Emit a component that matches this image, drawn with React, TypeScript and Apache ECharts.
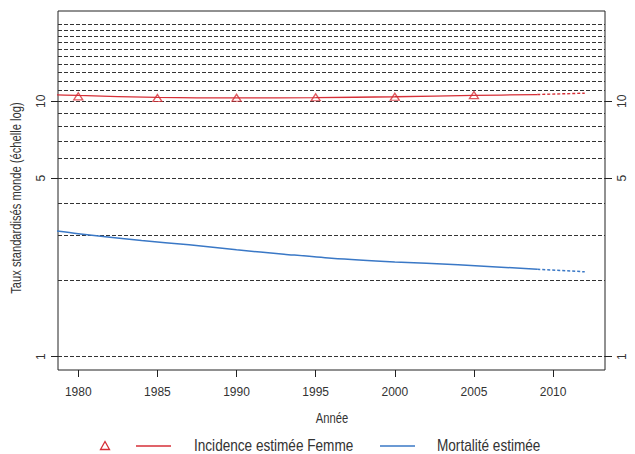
import React, { useEffect, useRef } from "react";
import * as echarts from "echarts";

const FONT = '"Liberation Sans", Arial, sans-serif';
const RED = "#d62f37";
const BLUE = "#3a78c6";
const INK = "#333333";
// condensed look for the titles and legend
const NARROW = 0.8;
const LEGEND_NARROW = 0.85;

// Years shown on the x axis
const xTickYears = [1980, 1985, 1990, 1995, 2000, 2005, 2010];
// Log-scale labels and reference lines
const yTickValues = [1, 5, 10];
const gridValues = [1, 2, 3, 4, 5, 6, 7, 8, 9, 10, 11, 12, 13, 14, 15, 16, 17, 18, 19, 20];

// Observed incidence (triangles)
const observedYears = [1980, 1985, 1990, 1995, 2000, 2005];
const observedIncidence = [10.45, 10.29, 10.32, 10.36, 10.41, 10.57];

// Estimated incidence, women (solid) and its projection (dotted)
const incidenceYears = [1978, 1980, 1985, 1990, 1995, 2000, 2005, 2009];
const incidenceFit = [10.63, 10.53, 10.35, 10.3, 10.33, 10.41, 10.53, 10.62];
const incidenceProjYears = [2009, 2012];
const incidenceProj = [10.62, 10.75];

// Estimated mortality (solid) and its projection (dotted)
const mortalityYears = [1978, 1980, 1984, 1987, 1990, 1993, 1996, 2000, 2004, 2009];
const mortalityFit = [3.14, 3.03, 2.85, 2.74, 2.62, 2.52, 2.43, 2.35, 2.29, 2.2];
const mortalityProjYears = [2009, 2012];
const mortalityProj = [2.2, 2.15];

const pairs = (xs: number[], ys: number[]) => xs.map((x, i) => [x, ys[i]]);

const Y_MIN = 0.8871;
const Y_MAX = 22.545;

const yAxisBase = (position: "left" | "right") => ({
  type: "log",
  position,
  min: Y_MIN,
  max: Y_MAX,
  axisLine: { show: false },
  axisTick: {
    show: true,
    length: 7,
    customValues: yTickValues,
    lineStyle: { color: "#222", width: 1 },
  },
  axisLabel: {
    customValues: yTickValues,
    rotate: 90,
    margin: 11,
    fontSize: 12,
    color: INK,
    fontFamily: FONT,
    formatter: (v: number) => String(Math.round(v)),
  },
  splitLine: { show: false },
  minorTick: { show: false },
});

const narrowText = (
  text: string,
  x: number,
  y: number,
  size: number,
  align: string,
  scaleX: number,
  rotation = 0
) => ({
  type: "text",
  x,
  y,
  rotation,
  scaleX,
  style: {
    text,
    fontSize: size,
    fontFamily: FONT,
    fill: INK,
    align,
    verticalAlign: "middle",
  },
});

export default function App() {
  const ref = useRef<HTMLDivElement>(null);

  useEffect(() => {
    if (!ref.current) return;
    const chart = echarts.init(ref.current, undefined, { renderer: "svg" });

    const option = {
      animation: false,
      backgroundColor: "#ffffff",
      textStyle: { fontFamily: FONT },
      grid: {
        left: 58,
        right: 30,
        top: 11,
        bottom: 84,
        show: true,
        borderColor: "#222",
        borderWidth: 1,
        backgroundColor: "transparent",
      },
      xAxis: {
        type: "value",
        min: 1978.72,
        max: 2013.28,
        axisLine: { show: false },
        axisTick: {
          show: true,
          length: 7,
          customValues: xTickYears,
          lineStyle: { color: "#222", width: 1 },
        },
        axisLabel: {
          customValues: xTickYears,
          margin: 16,
          fontSize: 12,
          color: INK,
          fontFamily: FONT,
          formatter: (v: number) => String(v),
        },
        splitLine: { show: false },
      },
      yAxis: [yAxisBase("left"), yAxisBase("right")],
      series: [
        {
          name: "Mortalité estimée",
          type: "line",
          yAxisIndex: 0,
          data: pairs(mortalityYears, mortalityFit),
          showSymbol: false,
          smooth: 0.3,
          lineStyle: { color: BLUE, width: 1.5 },
          z: 3,
          markLine: {
            silent: true,
            symbol: ["none", "none"],
            label: { show: false },
            lineStyle: { color: "#333", width: 1, type: [4, 2] },
            data: gridValues.map((v) => ({ yAxis: v })),
            z: 1,
          },
        },
        {
          name: "Mortalité projetée",
          type: "line",
          yAxisIndex: 0,
          data: pairs(mortalityProjYears, mortalityProj),
          showSymbol: false,
          lineStyle: { color: BLUE, width: 1.5, type: [3, 2] },
          z: 3,
        },
        {
          name: "Incidence estimée Femme",
          type: "line",
          yAxisIndex: 0,
          data: pairs(incidenceYears, incidenceFit),
          showSymbol: false,
          smooth: 0.3,
          lineStyle: { color: RED, width: 1.3 },
          z: 3,
        },
        {
          name: "Incidence projetée",
          type: "line",
          yAxisIndex: 0,
          data: pairs(incidenceProjYears, incidenceProj),
          showSymbol: false,
          lineStyle: { color: RED, width: 1.4, type: [3, 2] },
          z: 3,
        },
        {
          name: "Incidence observée",
          type: "scatter",
          yAxisIndex: 0,
          data: pairs(observedYears, observedIncidence),
          symbol: "triangle",
          symbolSize: [9, 7],
          itemStyle: { color: "rgba(0,0,0,0)", borderColor: RED, borderWidth: 1.3 },
          z: 4,
        },
      ],
      graphic: [
        narrowText("Taux standardisés monde (échelle log)", 17, 198, 14, "center", NARROW, Math.PI / 2),
        narrowText("Année", 332, 419, 14, "center", NARROW),
        {
          type: "polygon",
          shape: { points: [[105, 441.5], [100.5, 449.5], [109.5, 449.5]] },
          style: { fill: "none", stroke: RED, lineWidth: 1.3 },
        },
        {
          type: "line",
          shape: { x1: 136, y1: 446, x2: 171, y2: 446 },
          style: { stroke: RED, lineWidth: 1.5 },
        },
        narrowText("Incidence estimée Femme", 194, 446, 16, "left", LEGEND_NARROW),
        {
          type: "line",
          shape: { x1: 380, y1: 446, x2: 415, y2: 446 },
          style: { stroke: BLUE, lineWidth: 1.5 },
        },
        narrowText("Mortalité estimée", 437, 446, 16, "left", LEGEND_NARROW),
      ],
    };

    chart.setOption(option as any);
    return () => chart.dispose();
  }, []);

  return (
    <div
      ref={ref}
      style={{ position: "fixed", left: 0, top: 0, width: 635, height: 454, background: "#fff" }}
    />
  );
}
